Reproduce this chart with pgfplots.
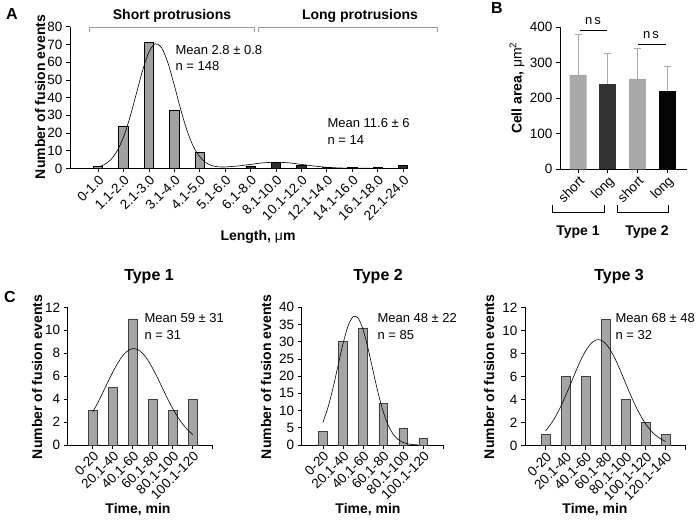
\documentclass[border=0pt]{standalone}
\usepackage{fontspec}
\setmainfont{Liberation Sans}
\usepackage{pgfplots}
\pgfplotsset{compat=1.18}

\definecolor{barA}{HTML}{A0A0A0}
\definecolor{darkA}{HTML}{2E2E2E}
\definecolor{bshort}{HTML}{A9A9A9}
\definecolor{blong1}{HTML}{333333}
\definecolor{blong2}{HTML}{050505}
\definecolor{errg}{HTML}{A9A9A9}
\definecolor{brk}{HTML}{9A9A9A}
\definecolor{barC}{HTML}{A5A5A5}

\newcommand{\tf}{\fontsize{13.5}{15}\selectfont}
\newcommand{\lf}{\fontsize{14}{16}\selectfont\bfseries}

\pgfplotsset{
  base/.style={
    scale only axis, anchor=south west, clip=false,
    axis lines=left, axis line style={-, line width=0.6pt},
    tick align=outside, major tick length=4pt,
    tick style={line width=0.6pt, black},
    tick label style={font=\tf},
    /pgf/number format/assume math mode=true,
    xticklabel style={rotate=45, anchor=north east, inner sep=1pt, font=\tf},
    enlargelimits=false,
  },
  hist/.style={ybar, bar shift=0pt, draw=black, line width=0.5pt},
  fit/.style={smooth, black, line width=0.6pt, no marks},
  errs/.style={error bars/.cd, y dir=plus, y explicit,
    error bar style={errg, line width=0.8pt},
    error mark options={errg, rotate=90, mark size=3.5pt, line width=0.8pt}},
}

\begin{document}
\begin{tikzpicture}[x=1pt,y=1pt]
\useasboundingbox (0,0) rectangle (700,521);

% ---------- A ----------
\begin{axis}[base, at={(70pt,352.5pt)}, width=333pt, height=141.8pt,
  xmin=-1.1, xmax=12, ymin=0, ymax=80,
  ytick={0,10,...,80},
  xtick={0,...,12},
  xticklabels={0-1.0,1.1-2.0,2.1-3.0,3.1-4.0,4.1-5.0,5.1-6.0,6.1-8.0,8.1-10.0,10.1-12.0,12.1-14.0,14.1-16.0,16.1-18.0,22.1-24.0},
]
\addplot[hist, bar width=0.37, fill=barA] coordinates {
  (0,1) (1,24) (2,71) (3,33) (4,9)
};
\addplot[hist, bar width=0.37, fill=darkA] coordinates {
  (6,1.5) (7,3.5) (8,1.7) (9,0.5) (10,0.5) (11,0.5) (12,1.7)
};
\addplot[fit] coordinates {
  (0,0.9) (0.25,2.2) (0.5,4.9) (0.75,9.8) (1,17.6) (1.25,28.5) (1.5,41.7)
  (1.75,55.0) (2,65.5) (2.25,70.4) (2.5,68.2) (2.75,59.7) (3,47.1)
  (3.25,33.6) (3.5,21.6) (3.75,12.5) (4,6.7) (4.25,3.25) (4.5,1.57)
  (4.75,0.93) (5,0.87) (5.5,1.4) (6,2.3) (6.5,3.2) (7,3.5) (7.5,3.2)
  (8,2.3) (8.5,1.4) (9,0.67) (9.5,0.3) (10,0.15) (11,0.1) (12,0.1)
};
\end{axis}

\node[font=\fontsize{16}{18}\selectfont\bfseries] at (12,507) {A};
\node[font=\lf] at (172,505) {Short protrusions};
\node[font=\lf] at (360,505) {Long protrusions};
\draw[brk, line width=0.6pt] (89,489) -- (89,493.5) -- (254,493.5) -- (254,489);
\draw[brk, line width=0.6pt] (258,489) -- (258,493.5) -- (437,493.5) -- (437,489);
\node[font=\fontsize{13}{15}\selectfont, anchor=west] at (172,471) {Mean 2.8 ± 0.8};
\node[font=\fontsize{13}{15}\selectfont, anchor=west] at (172,455) {n = 148};
\node[font=\fontsize{13}{15}\selectfont, anchor=west] at (324,398) {Mean 11.6 ± 6};
\node[font=\fontsize{13}{15}\selectfont, anchor=west] at (324,381) {n = 14};
\node[font=\lf, rotate=90] at (40,424) {Number of fusion events};
\node[font=\lf] at (258,284) {Length, \textmd{μ}m};

% ---------- B ----------
\begin{axis}[base, at={(560pt,351.7pt)}, width=127pt, height=142pt,
  xmin=-0.61, xmax=3.67, ymin=0, ymax=400,
  ytick={0,100,...,400},
  xtick={0,1,2,3},
  xticklabels={short,long,short,long},
]
\addplot[ybar, bar shift=0pt, bar width=0.57, fill=bshort, draw=none, errs]
  coordinates {(0,266) +- (0,114) (2,255) +- (0,85)};
\addplot[ybar, bar shift=0pt, bar width=0.57, fill=blong1, draw=none, errs]
  coordinates {(1,239) +- (0,87)};
\addplot[ybar, bar shift=0pt, bar width=0.57, fill=blong2, draw=none, errs]
  coordinates {(3,220) +- (0,70)};
\draw[line width=0.6pt] (axis cs:0.07,392) -- (axis cs:0.98,392);
\draw[line width=0.6pt] (axis cs:2.02,352) -- (axis cs:2.95,352);
\end{axis}

\node[font=\fontsize{16}{18}\selectfont\bfseries] at (497,513) {B};
\node[font=\fontsize{13}{15}\selectfont] at (593,500) {n\,s};
\node[font=\fontsize{13}{15}\selectfont] at (651,486) {n\,s};
\node[font=\lf, rotate=90] at (517,433) {Cell area, \textmd{μm\textsuperscript{2}}};
\draw[line width=0.6pt] (552,316) -- (552,309) -- (604,309) -- (604,316);
\draw[line width=0.6pt] (617,316) -- (617,309) -- (668,309) -- (668,316);
\node[font=\lf] at (578,289) {Type 1};
\node[font=\lf] at (647,289) {Type 2};

% ---------- C ----------
\node[font=\fontsize{16}{18}\selectfont\bfseries] at (10,224) {C};

\begin{axis}[base, at={(67.7pt,76pt)}, width=145pt, height=137.7pt,
  xmin=-1.25, xmax=6, ymin=0, ymax=12,
  ytick={0,2,...,12},
  xtick={0,...,6},
  xticklabels={0-20,20.1-40,40.1-60,60.1-80,80.1-100,100.1-120,},
]
\addplot[hist, bar width=0.43, fill=barC, draw=black!75] coordinates {
  (0,3) (1,5) (2,11) (3,4) (4,3) (5,4)
};
\addplot[fit] coordinates {
  (0,2.87) (0.25,3.67) (0.5,4.55) (0.75,5.46) (1,6.34) (1.25,7.13)
  (1.5,7.78) (1.75,8.21) (2,8.40) (2.25,8.31) (2.5,7.98) (2.75,7.41)
  (3,6.67) (3.25,5.82) (3.5,4.91) (3.75,4.02) (4,3.18) (4.25,2.44)
  (4.5,1.82) (4.75,1.31) (5,0.91)
};
\end{axis}

\begin{axis}[base, at={(301.7pt,76pt)}, width=141.7pt, height=137.7pt,
  xmin=-1.05, xmax=6, ymin=0, ymax=40,
  ytick={0,5,...,40},
  xtick={0,...,6},
  xticklabels={0-20,20.1-40,40.1-60,60.1-80,80.1-100,100.1-120,},
]
\addplot[hist, bar width=0.43, fill=barC, draw=black!75] coordinates {
  (0,4) (1,30) (2,34) (3,12) (4,5) (5,2)
};
\addplot[fit] coordinates {
  (0,6.50) (0.25,10.77) (0.5,16.37) (0.75,22.86) (1,29.30) (1.25,34.48)
  (1.5,37.24) (1.75,36.93) (2,33.60) (2.25,28.07) (2.5,21.53)
  (2.75,15.15) (3,9.80) (3.25,5.80) (3.5,3.16) (3.75,1.58) (4,0.73)
  (4.25,0.31) (4.5,0.12) (4.75,0.04)
};
\end{axis}

\begin{axis}[base, at={(525pt,75.3pt)}, width=160.7pt, height=138.4pt,
  xmin=-1.03, xmax=7, ymin=0, ymax=12,
  ytick={0,2,...,12},
  xtick={0,...,7},
  xticklabels={0-20,20.1-40,40.1-60,60.1-80,80.1-100,100.1-120,120.1-140,},
]
\addplot[hist, bar width=0.43, fill=barC, draw=black!75] coordinates {
  (0,1) (1,6) (2,6) (3,11) (4,4) (5,2) (6,1)
};
\addplot[fit] coordinates {
  (0,1.30) (0.25,1.85) (0.5,2.55) (0.75,3.38) (1,4.34) (1.25,5.37)
  (1.5,6.41) (1.75,7.39) (2,8.22) (2.25,8.83) (2.5,9.16) (2.75,9.16)
  (3,8.85) (3.25,8.25) (3.5,7.43) (3.75,6.45) (4,5.41) (4.25,4.38)
  (4.5,3.42) (4.75,2.58) (5,1.88) (5.25,1.32) (5.5,0.90) (5.75,0.59)
  (6,0.37)
};
\end{axis}

\node[font=\fontsize{16}{18}\selectfont\bfseries] at (149,244) {Type 1};
\node[font=\fontsize{16}{18}\selectfont\bfseries] at (378,244) {Type 2};
\node[font=\fontsize{16}{18}\selectfont\bfseries] at (619,244) {Type 3};
\node[font=\lf, rotate=90] at (37,144) {Number of fusion events};
\node[font=\lf, rotate=90] at (266,144) {Number of fusion events};
\node[font=\lf, rotate=90] at (489,144) {Number of fusion events};
\node[font=\lf] at (138,11) {Time, min};
\node[font=\lf] at (368,11) {Time, min};
\node[font=\lf] at (595,11) {Time, min};
\node[font=\fontsize{13}{15}\selectfont, anchor=west] at (141,203) {Mean 59 ± 31};
\node[font=\fontsize{13}{15}\selectfont, anchor=west] at (141,186) {n = 31};
\node[font=\fontsize{13}{15}\selectfont, anchor=west] at (374,203) {Mean 48 ± 22};
\node[font=\fontsize{13}{15}\selectfont, anchor=west] at (374,186) {n = 85};
\node[font=\fontsize{13}{15}\selectfont, anchor=west] at (612,203) {Mean 68 ± 48};
\node[font=\fontsize{13}{15}\selectfont, anchor=west] at (612,186) {n = 32};
\end{tikzpicture}
\end{document}
